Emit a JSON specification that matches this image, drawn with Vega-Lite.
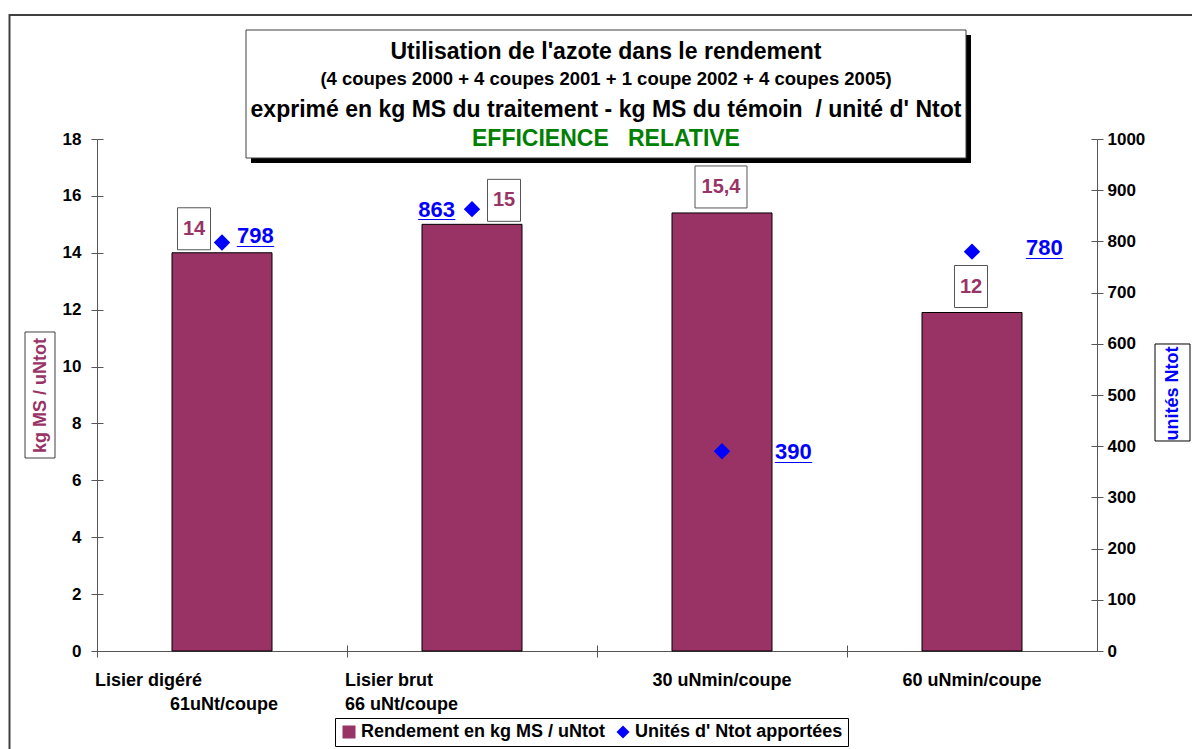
{
  "$schema": "https://vega.github.io/schema/vega-lite/v6.json",
  "width": 1000,
  "height": 512,
  "autosize": {"type": "none"},
  "padding": {"left": 97, "top": 139, "right": 95, "bottom": 98},
  "background": "white",
  "config": {
    "view": {"stroke": null},
    "font": "Liberation Sans",
    "axis": {
      "labelFont": "Liberation Sans",
      "labelFontWeight": "bold",
      "labelColor": "black",
      "labelFontSize": 17,
      "domainColor": "#555555",
      "tickColor": "#555555",
      "grid": false,
      "titleFont": "Liberation Sans",
      "titleFontWeight": "bold",
      "titleFontSize": 18
    },
    "legend": {
      "orient": "none",
      "legendX": 238,
      "legendY": 579,
      "direction": "horizontal",
      "strokeColor": "#000000",
      "fillColor": "white",
      "padding": 5,
      "labelFont": "Liberation Sans",
      "labelFontSize": 18,
      "labelFontWeight": "bold",
      "labelColor": "black",
      "symbolSize": 169,
      "labelOffset": 3,
      "columnPadding": 8,
      "labelLimit": 400,
      "symbolStrokeWidth": 0
    }
  },
  "data": {
    "values": [
      {"cat": "Lisier digéré 61uNt/coupe", "rendement": 14.0, "label": "14", "unites": 798},
      {"cat": "Lisier brut 66 uNt/coupe", "rendement": 15.0, "label": "15", "unites": 863},
      {"cat": "30 uNmin/coupe", "rendement": 15.4, "label": "15,4", "unites": 390},
      {"cat": "60 uNmin/coupe", "rendement": 11.9, "label": "12", "unites": 780}
    ]
  },
  "layer": [
    {
      "data": {"values": [{}]},
      "mark": {"type": "rect", "filled": false, "stroke": "#404040", "strokeWidth": 2},
      "encoding": {
        "x": {"datum": -0.0875, "type": "quantitative", "scale": {"domain": [0, 1], "nice": false, "zero": false}, "axis": null},
        "x2": {"datum": 1.2},
        "y": {"datum": 22.36, "type": "quantitative", "scale": {"domain": [0, 18], "nice": false, "zero": false}, "axis": null},
        "y2": {"datum": -6}
      }
    },
    {
      "data": {"values": [{}]},
      "mark": {"type": "rect", "filled": false, "stroke": "#404040", "strokeWidth": 1},
      "encoding": {
        "x": {"datum": -0.072, "type": "quantitative", "scale": {"domain": [0, 1], "nice": false, "zero": false}, "axis": null},
        "x2": {"datum": -0.042},
        "y": {"datum": 11.215, "type": "quantitative", "scale": {"domain": [0, 18], "nice": false, "zero": false}, "axis": null},
        "y2": {"datum": 6.785}
      }
    },
    {
      "data": {"values": [{}]},
      "mark": {"type": "rect", "filled": false, "stroke": "#000000", "strokeWidth": 1},
      "encoding": {
        "x": {"datum": 1.058, "type": "quantitative", "scale": {"domain": [0, 1], "nice": false, "zero": false}, "axis": null},
        "x2": {"datum": 1.093},
        "y": {"datum": 10.793, "type": "quantitative", "scale": {"domain": [0, 18], "nice": false, "zero": false}, "axis": null},
        "y2": {"datum": 7.383}
      }
    },
    {
      "mark": {"type": "text", "text": ""},
      "encoding": {
        "x": {
          "field": "cat", "type": "nominal", "sort": null,
          "scale": {"type": "band", "domain": ["Lisier digéré 61uNt/coupe", "Lisier brut 66 uNt/coupe", "30 uNmin/coupe", "60 uNmin/coupe"], "paddingInner": 0, "paddingOuter": 0},
          "axis": {"orient": "top", "offset": -512, "title": null, "bandPosition": 0, "labels": false, "domain": false, "tickSize": 6}
        },
        "y": {
          "field": "rendement", "type": "quantitative",
          "scale": {"domain": [0, 18], "nice": false, "zero": true},
          "axis": {"orient": "right", "offset": -1000, "title": null, "values": [0, 2, 4, 6, 8, 10, 12, 14, 16, 18], "labels": false, "domain": false, "tickSize": 6}
        }
      }
    },
    {
      "data": {"values": [{}]},
      "mark": {"type": "text", "text": ""},
      "encoding": {
        "y": {
          "datum": 0, "type": "quantitative",
          "scale": {"domain": [0, 1000], "nice": false, "zero": true},
          "axis": {"orient": "left", "offset": -1000, "title": null, "values": [0, 100, 200, 300, 400, 500, 600, 700, 800, 900, 1000], "labels": false, "domain": false, "tickSize": 6}
        }
      }
    },
    {
      "mark": {"type": "bar", "stroke": "black", "strokeWidth": 1, "width": {"band": 0.4}},
      "encoding": {
        "x": {
          "field": "cat", "type": "nominal", "sort": null,
          "scale": {"type": "band", "domain": ["Lisier digéré 61uNt/coupe", "Lisier brut 66 uNt/coupe", "30 uNmin/coupe", "60 uNmin/coupe"], "paddingInner": 0, "paddingOuter": 0},
          "axis": {
            "orient": "bottom",
            "title": null,
            "bandPosition": 0,
            "tickSize": 6,
            "labelPadding": 14,
            "labelFontSize": 18,
            "labelLineHeight": 24,
            "labelBaseline": "top",
            "labelAngle": 0,
            "labelLimit": 400,
            "labelOverlap": false,
            "labelExpr": "datum.value == 'Lisier digéré 61uNt/coupe' ? ['Lisier digéré', '\u200b\u00a0\u00a0\u00a0\u00a0\u00a0\u00a0\u00a0\u00a0\u00a0\u00a0\u00a0\u00a0\u00a0\u00a0\u00a061uNt/coupe'] : datum.value == 'Lisier brut 66 uNt/coupe' ? ['Lisier brut', '66 uNt/coupe'] : datum.value",
            "labelAlign": {"condition": {"test": "indexof(datum.value, 'Lisier') == 0", "value": "left"}, "value": "center"},
            "labelOffset": {"condition": {"test": "indexof(datum.value, 'Lisier') == 0", "value": -127}, "value": 0}
          }
        },
        "y": {
          "field": "rendement", "type": "quantitative",
          "scale": {"domain": [0, 18], "nice": false, "zero": true},
          "axis": {
            "orient": "left",
            "values": [0, 2, 4, 6, 8, 10, 12, 14, 16, 18],
            "title": "kg MS / uNtot",
            "titleColor": "#993366",
            "titleX": -57,
            "titleY": 256,
            "titleAngle": 270,
            "titleBaseline": "middle",
            "titleAlign": "center",
            "tickSize": 6,
            "labelPadding": 10
          }
        },
        "color": {
          "datum": "Rendement en kg MS / uNtot", "type": "nominal",
          "scale": {"domain": ["Rendement en kg MS / uNtot", "Unités d' Ntot apportées"], "range": ["#993366", "#0000FF"]},
          "legend": {"title": null}
        }
      }
    },
    {
      "transform": [{"filter": "indexof(datum.cat, 'digéré') >= 0"}],
      "mark": {"type": "point", "filled": true, "fill": "white", "stroke": "#555555", "strokeWidth": 1, "opacity": 1, "size": 1764, "shape": "M-0.786,-2.143H0.786V-0.143H-0.786Z"},
      "encoding": {
        "x": {"field": "cat", "type": "nominal", "sort": null, "bandPosition": 0.388, "scale": {"type": "band", "domain": ["Lisier digéré 61uNt/coupe", "Lisier brut 66 uNt/coupe", "30 uNmin/coupe", "60 uNmin/coupe"], "paddingInner": 0, "paddingOuter": 0}, "axis": null},
        "y": {"field": "rendement", "type": "quantitative", "scale": {"domain": [0, 18], "nice": false, "zero": true}, "axis": null}
      }
    },
    {
      "transform": [{"filter": "indexof(datum.cat, 'brut') >= 0"}],
      "mark": {"type": "point", "filled": true, "fill": "white", "stroke": "#555555", "strokeWidth": 1, "opacity": 1, "size": 1764, "shape": "M-0.786,-2.143H0.786V-0.143H-0.786Z"},
      "encoding": {
        "x": {"field": "cat", "type": "nominal", "sort": null, "bandPosition": 0.628, "scale": {"type": "band", "domain": ["Lisier digéré 61uNt/coupe", "Lisier brut 66 uNt/coupe", "30 uNmin/coupe", "60 uNmin/coupe"], "paddingInner": 0, "paddingOuter": 0}, "axis": null},
        "y": {"field": "rendement", "type": "quantitative", "scale": {"domain": [0, 18], "nice": false, "zero": true}, "axis": null}
      }
    },
    {
      "transform": [{"filter": "indexof(datum.cat, 'uNmin') >= 0"}],
      "mark": {"type": "point", "filled": true, "fill": "white", "stroke": "#555555", "strokeWidth": 1, "opacity": 1, "size": 1764},
      "encoding": {
        "x": {"field": "cat", "type": "nominal", "sort": null, "bandPosition": 0.496, "scale": {"type": "band", "domain": ["Lisier digéré 61uNt/coupe", "Lisier brut 66 uNt/coupe", "30 uNmin/coupe", "60 uNmin/coupe"], "paddingInner": 0, "paddingOuter": 0}, "axis": null},
        "y": {"field": "rendement", "type": "quantitative", "scale": {"domain": [0, 18], "nice": false, "zero": true}, "axis": null},
        "shape": {"condition": {"test": "datum.label == '15,4'", "value": "M-1.238,-2.238H1.238V-0.238H-1.238Z"}, "value": "M-0.786,-2.238H0.786V-0.238H-0.786Z"}
      }
    },
    {
      "transform": [{"filter": "indexof(datum.cat, 'digéré') >= 0"}],
      "mark": {"type": "text", "fontSize": 20, "fontWeight": "bold", "color": "#993366", "baseline": "middle", "align": "center", "dy": -24},
      "encoding": {
        "x": {"field": "cat", "type": "nominal", "sort": null, "bandPosition": 0.388, "scale": {"type": "band", "domain": ["Lisier digéré 61uNt/coupe", "Lisier brut 66 uNt/coupe", "30 uNmin/coupe", "60 uNmin/coupe"], "paddingInner": 0, "paddingOuter": 0}, "axis": null},
        "y": {"field": "rendement", "type": "quantitative", "scale": {"domain": [0, 18], "nice": false, "zero": true}, "axis": null},
        "text": {"field": "label"}
      }
    },
    {
      "transform": [{"filter": "indexof(datum.cat, 'brut') >= 0"}],
      "mark": {"type": "text", "fontSize": 20, "fontWeight": "bold", "color": "#993366", "baseline": "middle", "align": "center", "dy": -24},
      "encoding": {
        "x": {"field": "cat", "type": "nominal", "sort": null, "bandPosition": 0.628, "scale": {"type": "band", "domain": ["Lisier digéré 61uNt/coupe", "Lisier brut 66 uNt/coupe", "30 uNmin/coupe", "60 uNmin/coupe"], "paddingInner": 0, "paddingOuter": 0}, "axis": null},
        "y": {"field": "rendement", "type": "quantitative", "scale": {"domain": [0, 18], "nice": false, "zero": true}, "axis": null},
        "text": {"field": "label"}
      }
    },
    {
      "transform": [{"filter": "indexof(datum.cat, 'uNmin') >= 0"}],
      "mark": {"type": "text", "fontSize": 20, "fontWeight": "bold", "color": "#993366", "baseline": "middle", "align": "center", "dy": -26},
      "encoding": {
        "x": {"field": "cat", "type": "nominal", "sort": null, "bandPosition": 0.496, "scale": {"type": "band", "domain": ["Lisier digéré 61uNt/coupe", "Lisier brut 66 uNt/coupe", "30 uNmin/coupe", "60 uNmin/coupe"], "paddingInner": 0, "paddingOuter": 0}, "axis": null},
        "y": {"field": "rendement", "type": "quantitative", "scale": {"domain": [0, 18], "nice": false, "zero": true}, "axis": null},
        "text": {"field": "label"}
      }
    },
    {
      "mark": {"type": "point", "filled": true, "size": 270, "opacity": 1},
      "encoding": {
        "x": {"field": "cat", "type": "nominal", "sort": null, "scale": {"type": "band", "domain": ["Lisier digéré 61uNt/coupe", "Lisier brut 66 uNt/coupe", "30 uNmin/coupe", "60 uNmin/coupe"], "paddingInner": 0, "paddingOuter": 0}, "axis": null},
        "y": {
          "field": "unites", "type": "quantitative",
          "scale": {"domain": [0, 1000], "nice": false, "zero": true},
          "axis": {
            "orient": "right",
            "values": [0, 100, 200, 300, 400, 500, 600, 700, 800, 900, 1000],
            "format": "d",
            "title": "unités Ntot",
            "titleColor": "#0000FF",
            "titleX": 75,
            "titleY": 254,
            "titleAngle": 270,
            "titleBaseline": "middle",
            "titleAlign": "center",
            "tickSize": 6,
            "labelPadding": 4
          }
        },
        "color": {
          "datum": "Unités d' Ntot apportées", "type": "nominal",
          "scale": {"domain": ["Rendement en kg MS / uNtot", "Unités d' Ntot apportées"], "range": ["#993366", "#0000FF"]},
          "legend": {"title": null}
        },
        "shape": {
          "datum": "Unités d' Ntot apportées", "type": "nominal",
          "scale": {"domain": ["Rendement en kg MS / uNtot", "Unités d' Ntot apportées"], "range": ["square", "diamond"]},
          "legend": {"title": null}
        }
      }
    },
    {
      "transform": [{"filter": "indexof(datum.cat, 'digéré') >= 0"}],
      "mark": {"type": "text", "fontSize": 22, "fontWeight": "bold", "color": "#0000FF", "baseline": "alphabetic", "align": "left", "dx": 15, "dy": 1, "lineHeight": 0.5, "text": {"expr": "[format(datum.unites, 'd'), '___']"}},
      "encoding": {
        "x": {"field": "cat", "type": "nominal", "sort": null, "scale": {"type": "band", "domain": ["Lisier digéré 61uNt/coupe", "Lisier brut 66 uNt/coupe", "30 uNmin/coupe", "60 uNmin/coupe"], "paddingInner": 0, "paddingOuter": 0}, "axis": null},
        "y": {"field": "unites", "type": "quantitative", "scale": {"domain": [0, 1000], "nice": false, "zero": true}, "axis": null}
      }
    },
    {
      "transform": [{"filter": "indexof(datum.cat, 'brut') >= 0"}],
      "mark": {"type": "text", "fontSize": 22, "fontWeight": "bold", "color": "#0000FF", "baseline": "alphabetic", "align": "right", "dx": -17, "dy": 7.5, "lineHeight": 0.5, "text": {"expr": "[format(datum.unites, 'd'), '___']"}},
      "encoding": {
        "x": {"field": "cat", "type": "nominal", "sort": null, "scale": {"type": "band", "domain": ["Lisier digéré 61uNt/coupe", "Lisier brut 66 uNt/coupe", "30 uNmin/coupe", "60 uNmin/coupe"], "paddingInner": 0, "paddingOuter": 0}, "axis": null},
        "y": {"field": "unites", "type": "quantitative", "scale": {"domain": [0, 1000], "nice": false, "zero": true}, "axis": null}
      }
    },
    {
      "transform": [{"filter": "indexof(datum.cat, '30 uNmin') >= 0"}],
      "mark": {"type": "text", "fontSize": 22, "fontWeight": "bold", "color": "#0000FF", "baseline": "alphabetic", "align": "left", "dx": 53, "dy": 8, "lineHeight": 0.5, "text": {"expr": "[format(datum.unites, 'd'), '___']"}},
      "encoding": {
        "x": {"field": "cat", "type": "nominal", "sort": null, "scale": {"type": "band", "domain": ["Lisier digéré 61uNt/coupe", "Lisier brut 66 uNt/coupe", "30 uNmin/coupe", "60 uNmin/coupe"], "paddingInner": 0, "paddingOuter": 0}, "axis": null},
        "y": {"field": "unites", "type": "quantitative", "scale": {"domain": [0, 1000], "nice": false, "zero": true}, "axis": null}
      }
    },
    {
      "transform": [{"filter": "indexof(datum.cat, '60 uNmin') >= 0"}],
      "mark": {"type": "text", "fontSize": 22, "fontWeight": "bold", "color": "#0000FF", "baseline": "alphabetic", "align": "left", "dx": 54, "dy": 3.5, "lineHeight": 0.5, "text": {"expr": "[format(datum.unites, 'd'), '___']"}},
      "encoding": {
        "x": {"field": "cat", "type": "nominal", "sort": null, "scale": {"type": "band", "domain": ["Lisier digéré 61uNt/coupe", "Lisier brut 66 uNt/coupe", "30 uNmin/coupe", "60 uNmin/coupe"], "paddingInner": 0, "paddingOuter": 0}, "axis": null},
        "y": {"field": "unites", "type": "quantitative", "scale": {"domain": [0, 1000], "nice": false, "zero": true}, "axis": null}
      }
    },
    {
      "data": {"values": [{}]},
      "mark": {"type": "rect", "fill": "black"},
      "encoding": {
        "x": {"datum": 0.154, "type": "quantitative", "scale": {"domain": [0, 1], "nice": false, "zero": false}, "axis": null},
        "x2": {"datum": 0.874},
        "y": {"datum": 21.656, "type": "quantitative", "scale": {"domain": [0, 18], "nice": false, "zero": false}, "axis": null},
        "y2": {"datum": 17.156}
      }
    },
    {
      "data": {"values": [{}]},
      "mark": {"type": "rect", "fill": "white", "stroke": "#404040", "strokeWidth": 1},
      "encoding": {
        "x": {"datum": 0.149, "type": "quantitative", "scale": {"domain": [0, 1], "nice": false, "zero": false}, "axis": null},
        "x2": {"datum": 0.869},
        "y": {"datum": 21.832, "type": "quantitative", "scale": {"domain": [0, 18], "nice": false, "zero": false}, "axis": null},
        "y2": {"datum": 17.332}
      }
    },
    {
      "data": {"values": [{}]},
      "mark": {"type": "text", "text": "Utilisation de l'azote dans le rendement", "fontSize": 23, "fontWeight": "bold", "color": "black", "align": "center", "baseline": "alphabetic"},
      "encoding": {
        "x": {"datum": 0.509, "type": "quantitative", "scale": {"domain": [0, 1], "nice": false, "zero": false}, "axis": null},
        "y": {"datum": 20.823, "type": "quantitative", "scale": {"domain": [0, 18], "nice": false, "zero": false}, "axis": null}
      }
    },
    {
      "data": {"values": [{}]},
      "mark": {"type": "text", "text": "(4 coupes 2000 + 4 coupes 2001 + 1 coupe 2002 + 4 coupes 2005)", "fontSize": 18.5, "fontWeight": "bold", "color": "black", "align": "center", "baseline": "alphabetic"},
      "encoding": {
        "x": {"datum": 0.509, "type": "quantitative", "scale": {"domain": [0, 1], "nice": false, "zero": false}, "axis": null},
        "y": {"datum": 19.916, "type": "quantitative", "scale": {"domain": [0, 18], "nice": false, "zero": false}, "axis": null}
      }
    },
    {
      "data": {"values": [{}]},
      "mark": {"type": "text", "text": "exprimé en kg MS du traitement - kg MS du témoin\u00a0 / unité d' Ntot", "fontSize": 23, "fontWeight": "bold", "color": "black", "align": "center", "baseline": "alphabetic"},
      "encoding": {
        "x": {"datum": 0.509, "type": "quantitative", "scale": {"domain": [0, 1], "nice": false, "zero": false}, "axis": null},
        "y": {"datum": 18.784, "type": "quantitative", "scale": {"domain": [0, 18], "nice": false, "zero": false}, "axis": null}
      }
    },
    {
      "data": {"values": [{}]},
      "mark": {"type": "text", "text": "EFFICIENCE\u00a0\u00a0 RELATIVE", "fontSize": 23, "fontWeight": "bold", "color": "#008000", "align": "center", "baseline": "alphabetic"},
      "encoding": {
        "x": {"datum": 0.509, "type": "quantitative", "scale": {"domain": [0, 1], "nice": false, "zero": false}, "axis": null},
        "y": {"datum": 17.754, "type": "quantitative", "scale": {"domain": [0, 18], "nice": false, "zero": false}, "axis": null}
      }
    }
  ],
  "resolve": {"scale": {"x": "independent", "y": "independent"}}
}
